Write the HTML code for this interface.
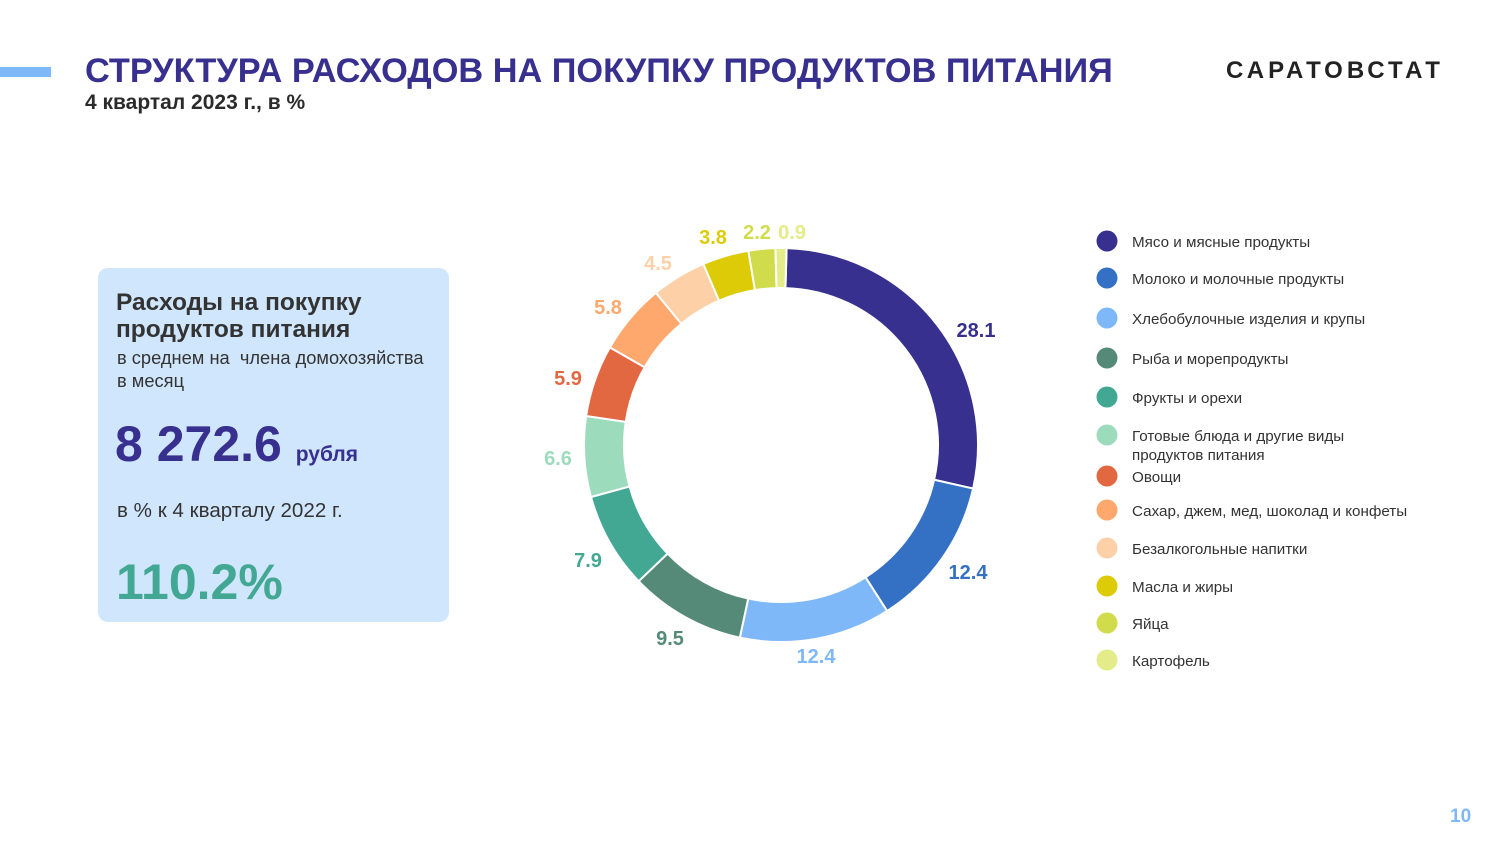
<!DOCTYPE html>
<html><head><meta charset="utf-8"><style>
body{margin:0;width:1500px;height:844px;background:#fff;position:relative;overflow:hidden;font-family:"Liberation Sans","DejaVu Sans",sans-serif}
.a{position:absolute;white-space:nowrap}
</style></head><body>
<div class="a" style="left:0;top:67px;width:51px;height:10px;background:#7fb8f8"></div>
<div class="a" style="left:85px;top:52px;font-size:34.3px;font-weight:bold;color:#37308f">СТРУКТУРА РАСХОДОВ НА ПОКУПКУ ПРОДУКТОВ ПИТАНИЯ</div>
<div class="a" style="left:85px;top:91px;font-size:21px;font-weight:bold;color:#2b2b2b">4 квартал 2023 г., в %</div>
<div class="a" style="left:1226px;top:57px;font-size:24px;font-weight:bold;color:#222;letter-spacing:4px">САРАТОВСТАТ</div>
<div class="a" style="left:98px;top:268px;width:351px;height:354px;background:#d0e6fd;border-radius:10px"></div>
<div class="a" style="left:116px;top:289px;font-size:24.5px;font-weight:bold;color:#333;line-height:27px">Расходы на покупку<br>продуктов питания</div>
<div class="a" style="left:117px;top:346px;font-size:18.3px;color:#333;line-height:23px">в среднем на&nbsp; члена домохозяйства<br>в месяц</div>
<div class="a" style="left:115px;top:415px;font-size:50px;font-weight:bold;color:#37308f">8 272.6 <span style="font-size:21px">рубля</span></div>
<div class="a" style="left:117px;top:499px;font-size:20.6px;color:#333">в % к 4 кварталу 2022 г.</div>
<div class="a" style="left:116px;top:553px;font-size:50px;font-weight:bold;color:#43a893">110.2%</div>
<svg class="a" style="left:0;top:0" width="1500" height="844" id="s" font-family="Liberation Sans, sans-serif" font-weight="bold" font-size="20"></svg>
<div class="a" style="left:1450px;top:806px;font-size:19px;font-weight:bold;color:#7fb8f8">10</div>
<script>
var d=[[28.1,"#37308f","Мясо и мясные продукты",976,330],[12.4,"#3470c4","Молоко и молочные продукты",968,572],[12.4,"#7fb8f8","Хлебобулочные изделия и крупы",816,656],[9.5,"#568a78","Рыба и морепродукты",670,638],[7.9,"#43a893","Фрукты и орехи",588,560],[6.6,"#9ddbbd","Готовые блюда и другие виды<br>продуктов питания",558,458],[5.9,"#e26842","Овощи",568,378],[5.8,"#fea86d","Сахар, джем, мед, шоколад и конфеты",608,307],[4.5,"#fdd0a8","Безалкогольные напитки",658,263],[3.8,"#dccb06","Масла и жиры",713,237],[2.2,"#d0dc4c","Яйца",757,232],[0.9,"#e3ec88","Картофель",792,232]];
var ly=[241,278,318,358,397,435,476,510,548,586,623,660];
var cx=781,cy=445,R=197,r=157,a=0.45,h="";
function p(rad,ang){return [cx+rad*Math.sin(ang),cy-rad*Math.cos(ang)]}
d.forEach(function(e,i){var a0=a*2*Math.PI/100;a+=e[0];var a1=a*2*Math.PI/100;var L=(e[0]>50)?1:0;
var A=p(R,a0),B=p(R,a1),C=p(r,a1),D=p(r,a0);
h+='<path d="M'+A+' A'+R+' '+R+' 0 '+L+' 1 '+B+' L'+C+' A'+r+' '+r+' 0 '+L+' 0 '+D+'Z" fill="'+e[1]+'" stroke="#fff" stroke-width="2"/>';
h+='<text x="'+e[3]+'" y="'+(e[4]+7)+'" fill="'+e[1]+'" text-anchor="middle">'+e[0].toFixed(1)+'</text>';
h+='<circle cx="1107" cy="'+ly[i]+'" r="10.5" fill="'+e[1]+'"/>';
var t=e[2].split('<br>');
t.forEach(function(s,j){h+='<text x="1132" y="'+(ly[i]+6+j*19)+'" font-weight="normal" font-size="15.2" fill="#333">'+s+'</text>';});
});
document.getElementById('s').innerHTML=h;
</script>
</body></html>
